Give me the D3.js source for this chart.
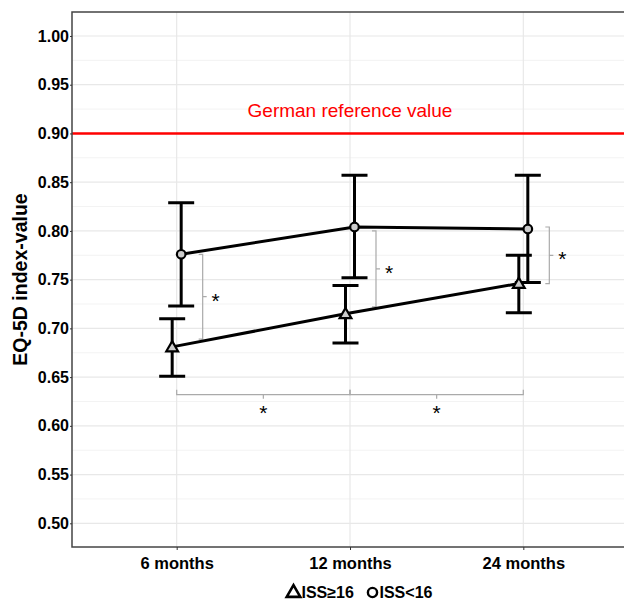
<!DOCTYPE html>
<html lang="en">
<head>
<meta charset="UTF-8">
<title>EQ-5D index-value</title>
<style>
  body { margin: 0; background: #fff; }
  svg { font-family: "Liberation Sans", Arial, sans-serif; }
  .axis text { font-weight: bold; fill: #000; }
  .axis path { display: none; }
  .axis line { stroke: #333; }
</style>
</head>
<body>
<svg id="chart" width="624" height="603"></svg>
<script src="https://d3js.org/d3.v7.min.js"></script>
<script>
// timepoints and group summaries (mean with 95% CI)
const months = ["6 months", "12 months", "24 months"];
const yTicks = [0.50, 0.55, 0.60, 0.65, 0.70, 0.75, 0.80, 0.85, 0.90, 0.95, 1.00];
const yMinor = [0.525, 0.575, 0.625, 0.675, 0.725, 0.775, 0.825, 0.875, 0.925, 0.975];

const highMean = [0.681, 0.715, 0.746];   // ISS>=16
const highLow  = [0.651, 0.685, 0.716];
const highUp   = [0.710, 0.744, 0.775];

const lowMean = [0.776, 0.804, 0.802];    // ISS<16
const lowLow  = [0.723, 0.752, 0.747];
const lowUp   = [0.829, 0.857, 0.857];

const refValue = 0.90;
const refLabel = "German reference value";

// between-group significance brackets at each timepoint [from, to]
const groupBrackets = [[0.776, 0.689], [0.800, 0.722], [0.804, 0.746]];
// over-time brackets (pairs of timepoints)
const timeBrackets = [["6 months", "12 months"], ["12 months", "24 months"]];
const timeBracketY = 0.632;

const svg = d3.select("#chart");
const pLeft = 72, pRight = 628, pTop = 12, pBottom = 547;

const x = d3.scalePoint().domain(months).range([pLeft, pRight]).padding(0.604);
const y = d3.scaleLinear().domain([0.4757, 1.0246]).range([pBottom, pTop]);
const dodge = 4.5;

// grid
const grid = svg.append("g");
grid.selectAll(".minor").data(yMinor).join("line")
  .attr("x1", pLeft).attr("x2", pRight).attr("y1", d => y(d)).attr("y2", d => y(d))
  .attr("stroke", "#f3f3f3").attr("stroke-width", 1);
grid.selectAll(".major").data(yTicks).join("line")
  .attr("x1", pLeft).attr("x2", pRight).attr("y1", d => y(d)).attr("y2", d => y(d))
  .attr("stroke", "#e8e8e8").attr("stroke-width", 1.2);
grid.selectAll(".vmajor").data(months).join("line")
  .attr("x1", d => x(d)).attr("x2", d => x(d)).attr("y1", pTop).attr("y2", pBottom)
  .attr("stroke", "#e8e8e8").attr("stroke-width", 1.2);

// reference line
svg.append("line")
  .attr("x1", pLeft).attr("x2", pRight).attr("y1", y(refValue)).attr("y2", y(refValue))
  .attr("stroke", "#ff0000").attr("stroke-width", 2.5);
svg.append("text")
  .attr("x", x("12 months")).attr("y", y(refValue) - 16)
  .attr("text-anchor", "middle").attr("fill", "#ff0000")
  .style("font-size", "19px").text(refLabel);

// panel border and axes
svg.append("rect")
  .attr("x", pLeft).attr("y", pTop).attr("width", pRight - pLeft).attr("height", pBottom - pTop)
  .attr("fill", "none").attr("stroke", "#444").attr("stroke-width", 1.5);

svg.append("g").attr("class", "axis")
  .attr("transform", `translate(${pLeft},0)`)
  .call(d3.axisLeft(y).tickValues(yTicks).tickFormat(d3.format(".2f")).tickSize(2).tickPadding(1))
  .selectAll("text").style("font-size", "16px");

svg.append("g").attr("class", "axis")
  .attr("transform", `translate(0,${pBottom})`)
  .call(d3.axisBottom(x).tickSize(3).tickPadding(4))
  .selectAll("text").style("font-size", "16.5px").attr("dy", "0.9em");

svg.append("text")
  .attr("transform", `translate(27,${(pTop + pBottom) / 2}) rotate(-90)`)
  .attr("text-anchor", "middle").style("font-size", "19.5px").style("font-weight", "bold")
  .text("EQ-5D index-value");

// significance brackets
const sig = svg.append("g").attr("stroke", "#aaa").attr("stroke-width", 1.2).attr("fill", "none");
groupBrackets.forEach((b, i) => {
  const bx = x(months[i]) + 26;
  sig.append("path").attr("d",
    `M${bx - 4},${y(b[0])}H${bx}V${y(b[1])}H${bx - 4}M${bx},${(y(b[0]) + y(b[1])) / 2}h4`);
  svg.append("text").attr("x", bx + 13).attr("y", (y(b[0]) + y(b[1])) / 2 + 11)
    .attr("text-anchor", "middle").style("font-size", "21px").text("*");
});
timeBrackets.forEach(b => {
  const x0 = x(b[0]), x1 = x(b[1]), by = y(timeBracketY);
  sig.append("path").attr("d", `M${x0},${by - 5}V${by}H${x1}V${by - 5}M${(x0 + x1) / 2},${by}v4`);
  svg.append("text").attr("x", (x0 + x1) / 2).attr("y", by + 25)
    .attr("text-anchor", "middle").style("font-size", "21px").text("*");
});

// series
const series = [
  { name: "high", mean: highMean, lo: highLow, up: highUp, off: -dodge },
  { name: "low", mean: lowMean, lo: lowLow, up: lowUp, off: dodge }
];
const line = d3.line();
series.forEach(s => {
  svg.append("path")
    .attr("d", line(months.map((m, i) => [x(m) + s.off, y(s.mean[i])])))
    .attr("fill", "none").attr("stroke", "#000").attr("stroke-width", 3);
  const eb = svg.append("g").attr("stroke", "#000").attr("stroke-width", 3).attr("fill", "none");
  months.forEach((m, i) => {
    const cx = x(m) + s.off;
    eb.append("path").attr("d",
      `M${cx - 13},${y(s.up[i])}H${cx + 13}M${cx},${y(s.up[i])}V${y(s.lo[i])}M${cx - 13},${y(s.lo[i])}H${cx + 13}`);
  });
});

// markers
const tri = d3.symbol().type(d3.symbolTriangle).size(60);
months.forEach((m, i) => {
  svg.append("path").attr("d", tri())
    .attr("transform", `translate(${x(m) - dodge},${y(highMean[i]) + 1})`)
    .attr("fill", "#cccccc").attr("stroke", "#000").attr("stroke-width", 2.2);
  svg.append("circle").attr("cx", x(m) + dodge).attr("cy", y(lowMean[i])).attr("r", 4.3)
    .attr("fill", "#cccccc").attr("stroke", "#000").attr("stroke-width", 2.2);
});

// legend
const leg = svg.append("g").attr("transform", "translate(0,598)");
leg.append("path").attr("d", d3.symbol().type(d3.symbolTriangle).size(80)())
  .attr("transform", "translate(293.5,-5)")
  .attr("fill", "#fff").attr("stroke", "#000").attr("stroke-width", 2.6);
leg.append("text").attr("x", 301.5).style("font-size", "16px").style("font-weight", "bold").text("ISS≥16");
leg.append("circle").attr("cx", 372.5).attr("cy", -5.5).attr("r", 4.6)
  .attr("fill", "#fff").attr("stroke", "#000").attr("stroke-width", 2.4);
leg.append("text").attr("x", 379.5).style("font-size", "16px").style("font-weight", "bold").text("ISS<16");
</script>
</body>
</html>
